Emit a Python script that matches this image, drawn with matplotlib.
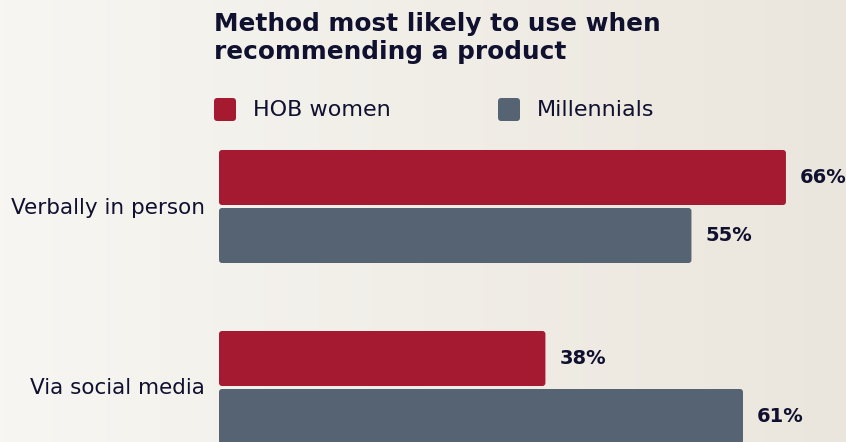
import numpy as np
import matplotlib.pyplot as plt
from matplotlib.patches import FancyBboxPatch

# data
categories = ['Verbally in person', 'Via social media']
hob_women = [66, 38]
millennials = [55, 61]
series_names = ['HOB women', 'Millennials']

# style
col_red = '#a51a30'
col_gray = '#566372'
col_text = '#10102f'
font = 'DejaVu Sans'

W, H = 846, 442
fig = plt.figure(figsize=(W / 100, H / 100), dpi=100)

# background: soft left-to-right warm gradient
bg = fig.add_axes([0, 0, 1, 1], zorder=-1)
grad = np.linspace(0, 1, 256)[None, :]
c0 = np.array([247, 246, 242]) / 255
c1 = np.array([235, 230, 221]) / 255
img = c0[None, None, :] * (1 - grad[..., None]) + c1[None, None, :] * grad[..., None]
bg.imshow(img, aspect='auto', extent=[0, 1, 0, 1])
bg.set_axis_off()

# bar axes, pixel-based placement
x0_px, top_px = 219, 150
px_per_unit = 8.59
ax = fig.add_axes([x0_px / W, 0, 1 - x0_px / W, 1 - top_px / H])
ax.set_xlim(0, (W - x0_px) / px_per_unit)
group_px = 181
center0 = 206.5
ax.set_ylim((H - center0) / group_px, (top_px - center0) / group_px)
ax.set_axis_off()
ax.patch.set_alpha(0)

y = np.arange(len(categories))
h = 55 / group_px
off = 29 / group_px

bars1 = ax.barh(y - off, hob_women, height=h, color=col_red)
bars2 = ax.barh(y + off, millennials, height=h, color=col_gray)

# swap plain rectangles for slightly rounded ones
r_px = 3
aspect = (1 / group_px) / (1 / px_per_unit)
for bars in (bars1, bars2):
    for b in bars:
        b.set_visible(False)
        p = FancyBboxPatch((b.get_x(), b.get_y()), b.get_width(), b.get_height(),
                           boxstyle=f'round,pad=0,rounding_size={r_px / px_per_unit}',
                           mutation_aspect=aspect, facecolor=b.get_facecolor(),
                           edgecolor='none', clip_on=False)
        ax.add_patch(p)

for bars, vals in ((bars1, hob_women), (bars2, millennials)):
    for b, v in zip(bars, vals):
        ax.text(v + 1.65, b.get_y() + b.get_height() / 2, f'{v}%', ha='left', va='center',
                fontsize=14, fontweight='bold', color=col_text, family=font, clip_on=False)

for yi, cat in zip(y, categories):
    fig.text(205 / W, 1 - (center0 + 1 + yi * group_px) / H, cat, ha='right', va='center',
             fontsize=15.5, color=col_text, family=font)

# title
fig.text(214 / W, 1 - 12 / H, 'Method most likely to use when\nrecommending a product',
         ha='left', va='top', fontsize=17.8, fontweight='bold', color=col_text,
         family=font, linespacing=1.2)

# legend
for xs, col, name in ((214, col_red, series_names[0]), (498, col_gray, series_names[1])):
    sq = FancyBboxPatch((xs / W, 1 - 121 / H), 22 / W, 23 / H,
                        boxstyle='round,pad=0,rounding_size=0.004',
                        mutation_aspect=W / H, transform=fig.transFigure,
                        facecolor=col, edgecolor='none')
    fig.patches.append(sq)
    fig.text((xs + 39) / W, 1 - 110 / H, name, ha='left', va='center',
             fontsize=16, color=col_text, family=font)

fig.savefig('out.png', dpi=100)
